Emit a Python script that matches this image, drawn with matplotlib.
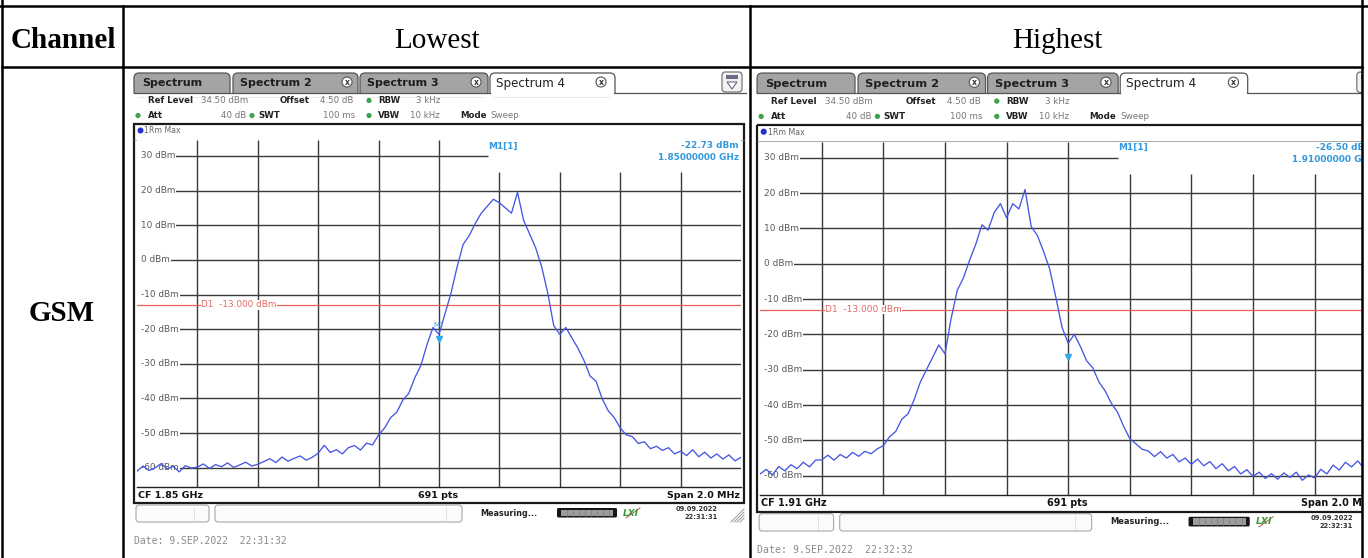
import numpy as np
import matplotlib
matplotlib.use("Agg")
import matplotlib.pyplot as plt
from matplotlib.patches import Rectangle, FancyBboxPatch, Circle, Polygon

# ---------------- data ----------------
header_labels = ["Channel", "Lowest", "Highest"]
row_label = "GSM"
ytick_levels = [30, 20, 10, 0, -10, -20, -30, -40, -50, -60]
ref_level = 34.5
span_mhz = 2.0
display_line = -13.0
n_points_label = "691 pts"

low_cf = "CF 1.85 GHz"
low_marker_level = -22.73
low_marker_freq = "1.85000000 GHz"
low_status = ("09.09.2022", "22:31:31")
low_footer = "Date: 9.SEP.2022  22:31:32"
low_levels = [
    -61.0, -59.5, -60.8, -60.0, -58.8, -60.3, -59.6, -61.2, -59.4, -60.1,
    -59.8, -58.9, -60.2, -59.1, -59.7, -58.6, -59.9, -59.2, -58.4, -59.5,
    -59.0, -58.2, -57.4, -58.5, -56.9, -58.1, -57.3, -56.6, -57.8, -57.0,
    -55.8, -53.5, -55.6, -54.8, -56.0, -54.2, -53.6, -54.9, -52.9, -53.4,
    -50.5, -48.5, -45.5, -44.0, -40.5, -38.5, -34.0, -30.5, -24.5, -19.5,
    -21.5, -15.5, -9.5, -2.0, 4.5, 7.0, 10.5, 13.5, 15.5, 17.5,
    16.5, 15.0, 13.5, 19.5, 11.5, 7.5, 3.5, -2.0, -9.5, -19.0,
    -21.5, -19.5, -22.5, -25.5, -29.0, -33.5, -35.0, -40.0, -43.5, -45.5,
    -48.5, -50.5, -51.0, -53.0, -52.5, -54.5, -53.8, -55.0, -54.2, -56.0,
    -55.2, -56.5, -54.8, -56.8, -55.5, -57.2, -56.0, -57.5, -56.3, -58.0, -57.0,
]

high_cf = "CF 1.91 GHz"
high_marker_level = -26.50
high_marker_freq = "1.91000000 GHz"
high_status = ("09.09.2022", "22:32:31")
high_footer = "Date: 9.SEP.2022  22:32:32"
high_levels = [
    -59.5, -58.2, -59.8, -57.4, -58.6, -56.9, -58.0, -56.2, -57.5, -55.6,
    -55.5, -54.2, -55.6, -54.0, -55.0, -53.4, -54.5, -53.1, -53.8, -52.4,
    -51.5, -49.0, -47.5, -44.0, -42.5, -38.5, -33.5, -30.0, -26.5, -23.0,
    -25.5, -15.5, -7.5, -4.0, 1.0, 5.5, 11.0, 9.5, 14.5, 17.0,
    13.0, 17.0, 15.5, 21.0, 10.5, 8.0, 3.5, -1.5, -9.5, -18.0,
    -22.5, -20.0, -23.5, -27.5, -29.5, -33.5, -36.0, -39.5, -42.0, -46.0,
    -49.5, -51.0, -52.5, -53.0, -54.6, -53.2, -55.0, -54.0, -56.1, -55.0,
    -56.8, -55.3, -57.2, -56.0, -58.0, -56.6, -58.6, -57.4, -59.5, -58.3,
    -60.2, -59.0, -60.8, -59.4, -61.0, -59.2, -60.5, -59.0, -61.3, -59.8,
    -60.6, -58.2, -59.5, -57.0, -58.4, -56.2, -57.5, -55.8, -57.9, -56.6, -58.0,
]

tab_labels = ["Spectrum", "Spectrum 2", "Spectrum 3", "Spectrum 4"]

# ---------------- figure ----------------
W, H = 1368, 558
fig = plt.figure(figsize=(W / 100, H / 100), dpi=100)
fig.patch.set_facecolor("white")
bg = fig.add_axes([0, 0, 1, 1])
bg.set_xlim(0, W)
bg.set_ylim(H, 0)
bg.axis("off")

SANS = "DejaVu Sans"
GRID = "#3a3a3a"
TRACE = "#4656e2"
MKR = "#3399dd"


def panel(ox, oy, s, levels, marker_level, marker_freq, cf_label, status, footer, m1_label):
    def P(x, y):
        return ox + s * (x - 130), oy + s * (y - 70)

    def rect(x0, y0, x1, y1, **kw):
        X0, Y0 = P(x0, y0)
        X1, Y1 = P(x1, y1)
        bg.add_patch(Rectangle((X0, Y0), X1 - X0, Y1 - Y0, **kw))

    def rrect(x0, y0, x1, y1, r, **kw):
        X0, Y0 = P(x0, y0)
        X1, Y1 = P(x1, y1)
        bg.add_patch(FancyBboxPatch((X0, Y0), X1 - X0, Y1 - Y0,
                                    boxstyle=f"round,pad=0,rounding_size={r * s}", **kw))

    def txt(x, y, t, fs, **kw):
        X, Y = P(x, y)
        kw.setdefault("family", SANS)
        bg.text(X, Y, t, fontsize=fs * s, **kw)

    def line(xs, ys, **kw):
        pts = [P(a, b) for a, b in zip(xs, ys)]
        bg.plot([p[0] for p in pts], [p[1] for p in pts], **kw)

    def dot(x, y, r, **kw):
        X, Y = P(x, y)
        bg.add_patch(Circle((X, Y), r * s, **kw))

    # ---- tabs ----
    tabs = [(134, 230, 142), (233, 358, 240), (360, 488, 367), (490, 615, 496)]
    xicons = [None, 347, 476, 601]
    for k, (x0, x1, tx) in enumerate(tabs):
        active = k == 3
        rrect(x0, 73, x1, 96.5, 5, facecolor="white" if active else "#a4a4a4",
              edgecolor="#555555", lw=0.9, zorder=2)
        if active:
            txt(tx, 83.5, tab_labels[k], 8.6, color="#222222", va="center", ha="left", zorder=4)
        else:
            txt(tx, 83.5, tab_labels[k], 8.0, color="#1e1e1e", weight="bold",
                va="center", ha="left", zorder=4)
        if xicons[k] is not None:
            dot(xicons[k], 82, 5, facecolor="white", edgecolor="#555555", lw=0.8, zorder=4)
            txt(xicons[k], 82.3, "x", 5.5, weight="bold", color="#333333",
                ha="center", va="center", zorder=5)
    rect(132, 93.6, 748, 97, facecolor="white", edgecolor="none", zorder=3)
    line([134, 490], [93, 93], color="#555555", lw=0.9, zorder=3)
    line([615, 746], [93, 93], color="#555555", lw=0.9, zorder=3)
    # top-right icon
    rrect(722, 72, 742, 92, 3, facecolor="#f2f2f2", edgecolor="#666666", lw=0.8, zorder=3)
    rect(726, 75, 738, 79, facecolor="#6a6a8a", edgecolor="none", zorder=4)
    X1, Y1 = P(727, 82)
    X2, Y2 = P(737, 82)
    X3, Y3 = P(732, 89)
    bg.add_patch(Polygon([[X1, Y1], [X2, Y2], [X3, Y3]], closed=True,
                         facecolor="white", edgecolor="#555577", lw=0.7, zorder=4))

    # ---- info rows ----
    fs_i = 6.2
    row1 = [("Ref Level", 148, True, "left"), ("34.50 dBm", 201, False, "left"),
            ("Offset", 280, True, "left"), ("4.50 dB", 320, False, "left"),
            ("RBW", 378, True, "left"), ("3 kHz", 416, False, "left")]
    row2 = [("Att", 148, True, "left"), ("40 dB", 246, False, "right"),
            ("SWT", 258, True, "left"), ("100 ms", 323, False, "left"),
            ("VBW", 378, True, "left"), ("10 kHz", 410, False, "left"),
            ("Mode", 460, True, "left"), ("Sweep", 490, False, "left")]
    for t, x, b, ha in row1:
        txt(x, 100.5, t, fs_i, weight="bold" if b else "normal",
            color="#222222" if b else "#777777", va="center", ha=ha, zorder=5)
    for t, x, b, ha in row2:
        txt(x, 115.5, t, fs_i, weight="bold" if b else "normal",
            color="#222222" if b else "#777777", va="center", ha=ha, zorder=5)
    for x, y in [(369, 100.5), (138, 115.5), (252, 115.5), (369, 115.5)]:
        dot(x, y, 2.6, facecolor="#3fa34a", edgecolor="none", zorder=5)

    # ---- diagram frame ----
    rect(134, 123.5, 743.5, 503, facecolor="none", edgecolor="#1a1a1a", lw=1.6, zorder=6)
    line([134, 743.5], [139.5, 139.5], color="#888888", lw=0.5, zorder=6)
    dot(140.5, 130.5, 3.0, facecolor="#2430c8", edgecolor="none", zorder=6)
    txt(144.5, 130.8, "1Rm Max", 5.6, color="#666666", va="center", ha="left", zorder=6)

    # bottom row
    txt(138, 495, cf_label, 6.8, weight="bold", color="#111111", va="center", ha="left")
    txt(438, 495, n_points_label, 6.8, weight="bold", color="#111111", va="center", ha="center")
    txt(740, 495, f"Span {span_mhz:.1f} MHz", 6.8, weight="bold", color="#111111",
        va="center", ha="right")

    # ---- status bar ----
    rrect(136, 505, 209, 522, 3, facecolor="#fbfbfb", edgecolor="#a8a8a8", lw=0.8)
    line([194, 194], [507, 520], color="#dddddd", lw=0.6)
    rrect(215, 505, 462, 522, 3, facecolor="#fbfbfb", edgecolor="#a8a8a8", lw=0.8)
    line([446, 446], [507, 520], color="#dddddd", lw=0.6)
    txt(480, 513, "Measuring...", 5.8, weight="bold", color="#222222", va="center", ha="left")
    rrect(557, 508, 617, 517.5, 1.5, facecolor="#151515", edgecolor="none")
    rect(561, 509.5, 613, 516, facecolor="#9c9c9c", edgecolor="none")
    for xx in range(567, 613, 6):
        line([xx, xx], [509.5, 516], color="#7a7a7a", lw=0.5)
    txt(623, 513, "LXI", 6.5, weight="bold", style="italic", color="#3a9a3a",
        va="center", ha="left")
    line([626, 640], [518, 508], color="#c03030", lw=0.6)
    txt(718, 509, status[0], 4.8, weight="bold", color="#333333", va="center", ha="right")
    txt(718, 517, status[1], 4.8, weight="bold", color="#333333", va="center", ha="right")
    for k in range(4):
        line([731 + 3 * k, 744], [522, 509 + 3 * k], color="#9a9a9a", lw=0.7)

    txt(134, 541, footer, 7.0, family="DejaVu Sans Mono", color="#8a8a8a",
        va="center", ha="left")

    # ---- plot axes ----
    X0, Y0 = P(137, 140.4)
    X1, Y1 = P(741, 486.8)
    ax = fig.add_axes([X0 / W, 1 - Y1 / H, (X1 - X0) / W, (Y1 - Y0) / H])
    lo = ref_level - 100
    ax.set_xlim(-span_mhz / 2, span_mhz / 2)
    ax.set_ylim(lo, ref_level)
    ax.set_xticks([])
    ax.set_yticks([])
    for sp in ax.spines.values():
        sp.set_visible(False)
    ax.spines["bottom"].set_visible(True)
    ax.spines["bottom"].set_color("#222222")
    ax.spines["bottom"].set_linewidth(1.0)

    def fx(lx):
        return -span_mhz / 2 + (lx - 137) / 604 * span_mhz

    def fy(ly):
        return ref_level - (ly - 140.4) / 346.4 * 100

    box_left = fx(488)
    box_bottom = fy(171.5)
    div = span_mhz / 10
    for k in range(1, 10):
        f = -span_mhz / 2 + k * div
        top = box_bottom if f > box_left else ref_level
        ax.plot([f, f], [lo, top], color=GRID, lw=1.0, zorder=2, solid_capstyle="butt")
    for lv in ytick_levels:
        xr = box_left if lv > box_bottom else span_mhz / 2
        ax.plot([fx(150), xr], [lv, lv], color=GRID, lw=1.0, zorder=2,
                solid_capstyle="butt")
        ax.text(fx(141), lv, f"{lv} dBm", fontsize=6.4 * s, family=SANS, color="#5a5a5a",
                ha="left", va="center", zorder=3,
                bbox=dict(facecolor="white", edgecolor="none", pad=0.6))

    ax.axhline(display_line, color="#e8615a", lw=0.9, zorder=4)
    ax.text(fx(201), display_line, f"D1  {display_line:.3f} dBm", fontsize=6.4 * s,
            family=SANS, color="#e06a64", ha="left", va="center", zorder=4.5,
            bbox=dict(facecolor="white", edgecolor="none", pad=0.2))

    ax.text(fx(488), fy(146), "M1[1]", fontsize=6.4 * s, family=SANS, weight="bold",
            color=MKR, ha="left", va="center", zorder=6, clip_on=False)
    ax.text(fx(739), fy(146), f"{marker_level:.2f} dBm", fontsize=6.4 * s, family=SANS,
            weight="bold", color=MKR, ha="right", va="center", zorder=6, clip_on=False)
    ax.text(fx(739), fy(157.5), marker_freq, fontsize=6.4 * s, family=SANS, weight="bold",
            color=MKR, ha="right", va="center", zorder=6, clip_on=False)

    freqs = np.linspace(-span_mhz / 2, span_mhz / 2, len(levels))
    ax.plot(freqs, levels, color=TRACE, lw=0.95, zorder=5)
    ax.plot([0], [marker_level], marker="v", color="#35aaee", ms=4.5 * s, zorder=6)
    if m1_label:
        ax.text(0, marker_level + 3.8, "M1", fontsize=5 * s, family=SANS, color="#35aaee",
                ha="center", va="center", zorder=6)


panel(130, 70, 1.0, low_levels, low_marker_level, low_marker_freq, low_cf,
      low_status, low_footer, True)
panel(753, 70, 1.02, high_levels, high_marker_level, high_marker_freq, high_cf,
      high_status, high_footer, False)

# ---------------- table overlay ----------------
ov = fig.add_axes([0, 0, 1, 1])
ov.set_xlim(0, W)
ov.set_ylim(H, 0)
ov.axis("off")
ov.patch.set_alpha(0)
ov.add_patch(Rectangle((1363, 0), 10, H, facecolor="white", edgecolor="none", zorder=1))
LW = 1.8
ov.plot([0, W], [6, 6], color="black", lw=LW, zorder=3)
ov.plot([2, 1362], [67, 67], color="black", lw=LW, zorder=3)
ov.plot([2, 2], [0, H], color="black", lw=LW, zorder=3)
ov.plot([1362, 1362], [0, H], color="black", lw=LW, zorder=3)
ov.plot([123, 123], [6, H], color="black", lw=LW, zorder=3)
ov.plot([750, 750], [6, H], color="black", lw=LW, zorder=3)

SERIF = "Liberation Serif"
ov.text(63, 47.5, header_labels[0], fontsize=21, family=SERIF, weight="bold",
        ha="center", va="baseline")
ov.text(437, 47.5, header_labels[1], fontsize=21, family=SERIF, ha="center", va="baseline")
ov.text(1057, 47.5, header_labels[2], fontsize=21, family=SERIF, ha="center", va="baseline")
ov.text(62, 321, row_label, fontsize=21, family=SERIF, weight="bold", ha="center",
        va="baseline")

fig.savefig("out.png", dpi=100, facecolor="white")
